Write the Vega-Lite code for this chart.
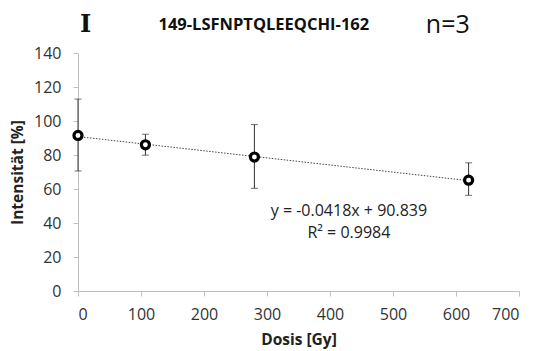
{
  "$schema": "https://vega.github.io/schema/vega-lite/v6.json",
  "autosize": {"type": "none"},
  "width": 441,
  "height": 238,
  "padding": {"left": 78, "top": 53, "right": 14, "bottom": 60},
  "background": "white",
  "config": {
    "view": {"stroke": null},
    "font": "Open Sans",
    "axis": {"grid": false, "labelOverlap": false, "domainColor": "#c0c0c0", "tickColor": "#c0c0c0", "tickSize": 5,
      "labelFontSize": 16, "labelColor": "#333", "titleFontSize": 15.5, "titleFontWeight": "bold", "titleColor": "#222"},
    "axisX": {"labelPadding": 10, "titlePadding": 10},
    "axisY": {"labelPadding": 12, "titlePadding": 8}
  },
  "datasets": {
    "pts": [
      {"dose": 0, "val": 91.5, "lo": 70.6, "hi": 112.9},
      {"dose": 107, "val": 86.0, "lo": 79.9, "hi": 92.2},
      {"dose": 280, "val": 78.8, "lo": 60.4, "hi": 97.9},
      {"dose": 620, "val": 65.2, "lo": 56.3, "hi": 75.4}
    ],
    "trend": [
      {"dose": 0, "val": 90.839},
      {"dose": 620, "val": 64.923}
    ],
    "labels": [
      {"x": 12, "y": 156.5, "t": "I", "kind": "letter"},
      {"x": 295, "y": 156.5, "t": "149-LSFNPTQLEEQCHI-162", "kind": "title"},
      {"x": 587, "y": 156.5, "t": "n=3", "kind": "n"},
      {"x": 430, "y": 46.9, "t": "y = -0.0418x + 90.839", "kind": "eq"},
      {"x": 430, "y": 34.2, "t": "R² = 0.9984", "kind": "eq"}
    ]
  },
  "layer": [
    {
      "data": {"name": "trend"},
      "mark": {"type": "line", "stroke": "#444", "strokeWidth": 1, "strokeDash": [1.5, 1.5]},
      "encoding": {
        "x": {"field": "dose", "type": "quantitative", "scale": {"domain": [0, 700], "nice": false}, "title": "Dosis [Gy]",
          "axis": {"tickCount": 7, "labelOverlap": false}},
        "y": {"field": "val", "type": "quantitative", "scale": {"domain": [0, 140], "nice": false}, "title": "Intensität [%]",
          "axis": {"tickCount": 7, "labelOverlap": false}}
      }
    },
    {
      "data": {"name": "pts"},
      "mark": {"type": "rule", "stroke": "#333", "strokeWidth": 1},
      "encoding": {
        "x": {"field": "dose", "type": "quantitative", "title": "Dosis [Gy]"},
        "y": {"field": "lo", "type": "quantitative", "title": "Intensität [%]"},
        "y2": {"field": "hi"}
      }
    },
    {
      "data": {"name": "pts"},
      "mark": {"type": "tick", "orient": "horizontal", "color": "#333", "size": 7, "thickness": 1},
      "encoding": {
        "x": {"field": "dose", "type": "quantitative", "title": "Dosis [Gy]"},
        "y": {"field": "lo", "type": "quantitative", "title": "Intensität [%]"}
      }
    },
    {
      "data": {"name": "pts"},
      "mark": {"type": "tick", "orient": "horizontal", "color": "#333", "size": 7, "thickness": 1},
      "encoding": {
        "x": {"field": "dose", "type": "quantitative", "title": "Dosis [Gy]"},
        "y": {"field": "hi", "type": "quantitative", "title": "Intensität [%]"}
      }
    },
    {
      "data": {"name": "pts"},
      "mark": {"type": "point", "shape": "circle", "size": 65, "fill": "white", "stroke": "black", "strokeWidth": 3.2, "opacity": 1},
      "encoding": {
        "x": {"field": "dose", "type": "quantitative", "title": "Dosis [Gy]"},
        "y": {"field": "val", "type": "quantitative", "title": "Intensität [%]"}
      }
    },
    {
      "data": {"name": "labels"},
      "transform": [{"filter": "datum.kind == 'eq'"}],
      "mark": {"type": "text", "fontSize": 16, "color": "#222", "align": "center", "baseline": "middle"},
      "encoding": {
        "x": {"field": "x", "type": "quantitative", "title": "Dosis [Gy]"},
        "y": {"field": "y", "type": "quantitative", "title": "Intensität [%]"},
        "text": {"field": "t"}
      }
    },
    {
      "data": {"name": "labels"},
      "transform": [{"filter": "datum.kind == 'title'"}],
      "mark": {"type": "text", "fontSize": 16.5, "fontWeight": "bold", "color": "#111", "align": "center", "baseline": "middle"},
      "encoding": {
        "x": {"field": "x", "type": "quantitative", "title": "Dosis [Gy]"},
        "y": {"field": "y", "type": "quantitative", "title": "Intensität [%]"},
        "text": {"field": "t"}
      }
    },
    {
      "data": {"name": "labels"},
      "transform": [{"filter": "datum.kind == 'letter'"}],
      "mark": {"type": "text", "font": "DejaVu Serif", "fontSize": 24, "fontWeight": "bold", "color": "#111", "align": "center", "baseline": "middle"},
      "encoding": {
        "x": {"field": "x", "type": "quantitative", "title": "Dosis [Gy]"},
        "y": {"field": "y", "type": "quantitative", "title": "Intensität [%]"},
        "text": {"field": "t"}
      }
    },
    {
      "data": {"name": "labels"},
      "transform": [{"filter": "datum.kind == 'n'"}],
      "mark": {"type": "text", "fontSize": 25, "color": "#111", "align": "center", "baseline": "middle"},
      "encoding": {
        "x": {"field": "x", "type": "quantitative", "title": "Dosis [Gy]"},
        "y": {"field": "y", "type": "quantitative", "title": "Intensität [%]"},
        "text": {"field": "t"}
      }
    }
  ]
}
